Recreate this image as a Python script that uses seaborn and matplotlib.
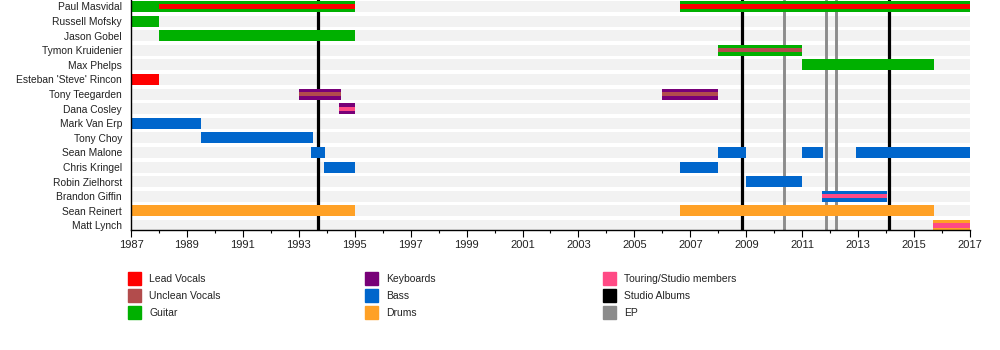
import matplotlib
matplotlib.use("Agg")
import matplotlib.pyplot as plt
import seaborn as sns
import numpy as np
from matplotlib.patches import Patch

# ---------------- data ----------------
members = ["Paul Masvidal", "Russell Mofsky", "Jason Gobel", "Tymon Kruidenier",
           "Max Phelps", "Esteban 'Steve' Rincon", "Tony Teegarden", "Dana Cosley",
           "Mark Van Erp", "Tony Choy", "Sean Malone", "Chris Kringel",
           "Robin Zielhorst", "Brandon Giffin", "Sean Reinert", "Matt Lynch"]

roles = ["Lead Vocals", "Unclean Vocals", "Guitar", "Keyboards", "Bass", "Drums",
         "Touring/Studio members"]
role_colors = ["#ff0000", "#b24c4c", "#00b000", "#780078", "#0066cc", "#ffa126",
               "#ff4a85"]

# main (full-height) bars
bar_member = ["Paul Masvidal", "Paul Masvidal", "Russell Mofsky", "Jason Gobel",
              "Tymon Kruidenier", "Max Phelps", "Esteban 'Steve' Rincon",
              "Tony Teegarden", "Tony Teegarden", "Dana Cosley", "Mark Van Erp",
              "Tony Choy", "Sean Malone", "Sean Malone", "Sean Malone", "Sean Malone",
              "Chris Kringel", "Chris Kringel", "Robin Zielhorst", "Brandon Giffin",
              "Sean Reinert", "Sean Reinert", "Matt Lynch"]
bar_start = [1987, 2006.63, 1987, 1988, 2008, 2011, 1987, 1993, 2006, 1994.45, 1987,
             1989.5, 1993.45, 2008, 2011, 2012.92, 1993.9, 2006.63, 2009, 2011.7,
             1987, 2006.63, 2015.67]
bar_end = [1995, 2017, 1988, 1995, 2011, 2015.7, 1988, 1994.5, 2008, 1995, 1989.5,
           1993.5, 1993.95, 2009, 2011.75, 2017, 1995, 2008, 2011, 2014.03,
           1995, 2015.7, 2017]
bar_role = ["Guitar", "Guitar", "Guitar", "Guitar", "Guitar", "Guitar", "Lead Vocals",
            "Keyboards", "Keyboards", "Keyboards", "Bass", "Bass", "Bass", "Bass",
            "Bass", "Bass", "Bass", "Bass", "Bass", "Bass", "Drums", "Drums", "Drums"]

# secondary (thin stripe) bars
stripe_member = ["Paul Masvidal", "Paul Masvidal", "Tymon Kruidenier", "Tony Teegarden",
                 "Tony Teegarden", "Dana Cosley", "Brandon Giffin", "Matt Lynch"]
stripe_start = [1988, 2006.63, 2008, 1993, 2006, 1994.45, 2011.7, 2015.67]
stripe_end = [1995, 2017, 2011, 1994.5, 2008, 1995, 2014.03, 2017]
stripe_role = ["Lead Vocals", "Lead Vocals", "Unclean Vocals", "Unclean Vocals",
               "Unclean Vocals", "Touring/Studio members", "Touring/Studio members",
               "Touring/Studio members"]

studio_albums = [1993.68, 2008.85, 2014.1]
eps = [2010.36, 2011.86, 2012.22]

year_start, year_end = 1987, 2017
major_ticks = list(range(1987, 2018, 2))
minor_ticks = list(range(1987, 2018, 1))

# ---------------- style ----------------
sns.set_theme(style="white")
plt.rcParams["font.family"] = ["Liberation Sans", "DejaVu Sans"]

color_of = dict(zip(roles, role_colors))
row_of = {m: i for i, m in enumerate(members)}

fig = plt.figure(figsize=(10, 3.5), dpi=100)
ax = fig.add_axes([0.131, 0.3429, 0.839, 0.6571])

band_h = 0.75
stripe_h = 0.3

# background bands
ax.barh(np.arange(len(members)), [year_end - year_start] * len(members),
        left=year_start, height=band_h, color="#f2f2f2", zorder=1, linewidth=0)

# album lines
for x in studio_albums:
    ax.axvline(x, color="black", lw=2.3, zorder=2)
for x in eps:
    ax.axvline(x, color="#8c8c8c", lw=2.1, zorder=2)

# main bars
ax.barh([row_of[m] for m in bar_member],
        np.array(bar_end) - np.array(bar_start), left=bar_start, height=band_h,
        color=[color_of[r] for r in bar_role], linewidth=0, zorder=3)
# stripes
ax.barh([row_of[m] for m in stripe_member],
        np.array(stripe_end) - np.array(stripe_start), left=stripe_start,
        height=stripe_h, color=[color_of[r] for r in stripe_role], linewidth=0,
        zorder=4)

ax.set_xlim(year_start, year_end)
ax.set_ylim((230 - 6.5) / 14.6, -6.5 / 14.6)
ax.set_yticks(np.arange(len(members)))
ax.set_yticklabels(members, fontsize=7.4, color="#222222")
ax.tick_params(axis="y", length=0, pad=6.5)
ax.set_xticks(major_ticks)
ax.set_xticks(minor_ticks, minor=True)
ax.set_xticklabels([str(t) for t in major_ticks], fontsize=8, color="#222222")
ax.tick_params(axis="x", which="major", length=5, width=0.8, color="black",
               pad=2, direction="out", bottom=True)
ax.tick_params(axis="x", which="minor", length=2.2, width=0.8, color="black",
               direction="out", bottom=True)
for s in ["top", "right"]:
    ax.spines[s].set_visible(False)
for s in ["left", "bottom"]:
    ax.spines[s].set_color("black")
    ax.spines[s].set_linewidth(1.0)
    ax.spines[s].set_zorder(5)
ax.grid(False)

# legends
legend_groups = [
    [Patch(color=color_of["Lead Vocals"], label="Lead Vocals"),
     Patch(color=color_of["Unclean Vocals"], label="Unclean Vocals"),
     Patch(color=color_of["Guitar"], label="Guitar")],
    [Patch(color=color_of["Keyboards"], label="Keyboards"),
     Patch(color=color_of["Bass"], label="Bass"),
     Patch(color=color_of["Drums"], label="Drums")],
    [Patch(color=color_of["Touring/Studio members"], label="Touring/Studio members"),
     Patch(color="black", label="Studio Albums"),
     Patch(color="#8c8c8c", label="EP")],
]
legend_x = [128 / 1000, 365 / 1000, 603 / 1000]
for hx, handles in zip(legend_x, legend_groups):
    leg = fig.legend(handles=handles, loc="upper left",
                     bbox_to_anchor=(hx, 1 - 272 / 350), frameon=False,
                     fontsize=7.5, handlelength=1.25, handleheight=1.54,
                     handletextpad=0.8, labelspacing=0.38, borderpad=0,
                     borderaxespad=0)
    for t in leg.get_texts():
        t.set_color("#222222")

fig.savefig("out.png", dpi=100)
